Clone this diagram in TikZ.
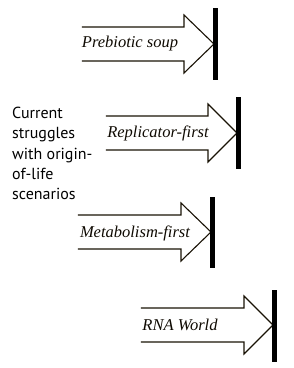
\documentclass[tikz,border=0pt]{standalone}
\usepackage{fontspec}
\setmainfont{Liberation Serif}
\newfontfamily\labelsans{PT Sans}
\definecolor{outline}{RGB}{25,18,5}
\definecolor{txt}{RGB}{15,10,2}
\tikzset{
  bigarrow/.style={draw=outline, line width=1.1pt, line join=miter},
  stopbar/.style={fill=black, draw=none},
  arrowlabel/.style={font=\fontsize{16.5}{18}\selectfont\itshape, text=txt, inner sep=0pt},
  sidelabel/.style={font=\labelsans\fontsize{16}{20.3}\selectfont, text=black, align=left, anchor=north west, inner sep=0pt}
}
% #1 left, #2 head base x, #3 tip x, #4 mid y, #5 bar top, #6 bar bottom, #7 name
\newcommand{\openarrow}[7]{%
  \draw[bigarrow] (#1,#4-17) -- (#2,#4-17) -- (#2,#4-29) -- (#3,#4) -- (#2,#4+29) -- (#2,#4+17) -- (#1,#4+17);
  \fill[stopbar] (#3-1,#5) rectangle (#3+4.5,#6);
  \coordinate (#7) at (#3,#4);
}
\begin{document}
\begin{tikzpicture}[x=1pt,y=-1pt]
\useasboundingbox (0,0) rectangle (294,368);
\openarrow{82}{184}{214}{44}{8}{80}{tipA}
\node[arrowlabel] (prebiotic) at (130,44) {Prebiotic soup};
\openarrow{106}{208}{237}{133}{97}{169}{tipB}
\node[arrowlabel] (replicator) at (158,133) {Replicator-first};
\openarrow{78}{181}{211}{232}{197}{268}{tipC}
\node[arrowlabel] (metabolism) at (135,233) {Metabolism-first};
\openarrow{141}{244}{273}{325}{290}{362}{tipD}
\node[arrowlabel] (rna) at (180,325) {RNA World};
\node[sidelabel] (struggles) at (12,107) {Current\\struggles\\with origin-\\of-life\\scenarios};
\end{tikzpicture}
\end{document}
